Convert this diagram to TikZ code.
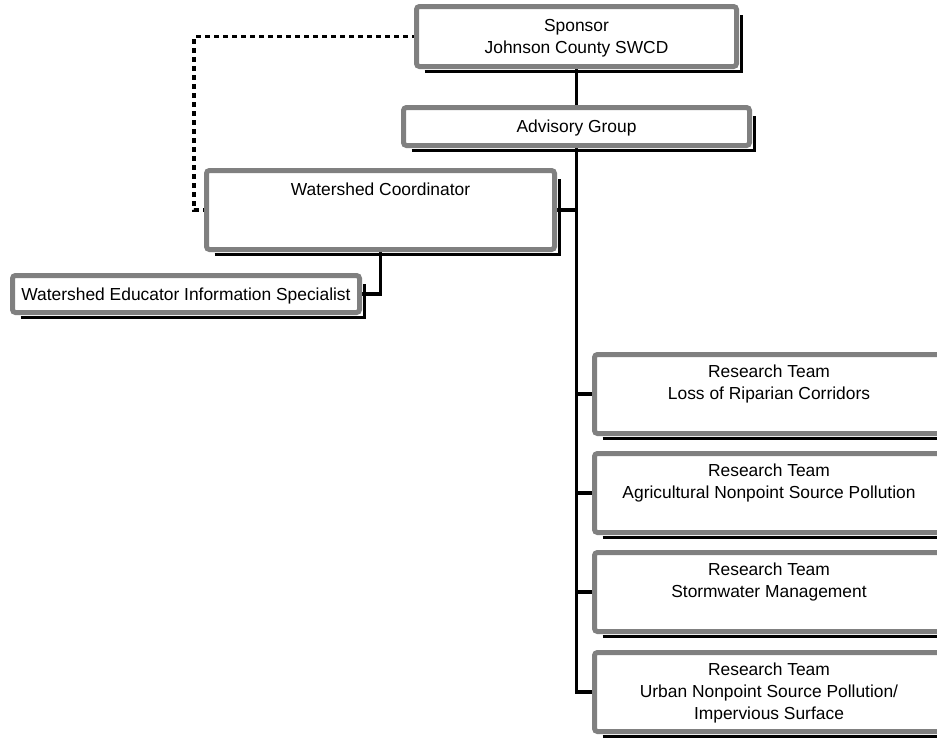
\documentclass[tikz,border=0pt]{standalone}
\usepackage{fontspec}
\setmainfont{Liberation Sans}
\usetikzlibrary{calc,backgrounds}
\definecolor{boxgray}{RGB}{128,128,128}
\begin{document}
\begin{tikzpicture}[x=1pt,y=-1pt,
  font=\fontsize{17.4}{21.7}\selectfont,
  orgbox/.style={draw=boxgray, line width=5pt, fill=white, rounded corners=3pt, inner sep=0pt, outer sep=0pt, align=center, text depth=0pt},
  lbl/.style={inner sep=0pt, outer sep=0pt, align=center},
  conn/.style={line width=3.5pt, black},
  shadowline/.style={line width=3pt, black},
  dotline/.style={line width=3.5pt, black, dash pattern=on 5pt off 4pt}]
\useasboundingbox (0,0) rectangle (937,737);
\clip (0,0) rectangle (937,737);

% boxes
\node[orgbox, minimum width=320pt, minimum height=60pt] (sp) at (576.5,36.5) {Sponsor\\Johnson County SWCD};
\node[orgbox, minimum width=346pt, minimum height=38pt] (adv) at (576.5,126.5) {Advisory Group};
\node[orgbox, minimum width=348pt, minimum height=79pt] (wc) at (380.5,210) {};
\node[lbl, anchor=north] (wct) at ($(wc.north)+(0,12)$) {Watershed Coordinator};
\node[orgbox, minimum width=347pt, minimum height=37pt] (ed) at (186,294) {Watershed Educator Information Specialist};

\node[orgbox, minimum width=349pt, minimum height=79pt] (r1) at (769,394) {};
\node[orgbox, minimum width=349pt, minimum height=79pt] (r2) at (769,493) {};
\node[orgbox, minimum width=349pt, minimum height=79pt] (r3) at (769,592) {};
\node[orgbox, minimum width=349pt, minimum height=79pt] (r4) at (769,692) {};
\node[lbl, anchor=north] (r1t) at ($(r1.north)+(0,10.5)$) {Research Team\\Loss of Riparian Corridors};
\node[lbl, anchor=north] (r2t) at ($(r2.north)+(0,10.5)$) {Research Team\\Agricultural Nonpoint Source Pollution};
\node[lbl, anchor=north] (r3t) at ($(r3.north)+(0,10.5)$) {Research Team\\Stormwater Management};
\node[lbl, anchor=north] (r4t) at ($(r4.north)+(0,10.5)$) {Research Team\\Urban Nonpoint Source Pollution/\\Impervious Surface};

\begin{pgfonlayer}{background}
  \fill[white] (0,0) rectangle (937,737);
  % shadows
  \foreach \b in {sp,adv,wc,ed,r1,r2,r3,r4}
    \draw[shadowline] ($(\b.south west)+(8,4.5)$) -- ($(\b.south east)+(4.5,4.5)$) -- ($(\b.north east)+(4.5,8)$);
  % connectors
  \draw[conn] (sp.south) -- (adv.north);
  \draw[conn] (adv.south) |- (r4.west);
  \foreach \r in {r1,r2,r3}
    \draw[conn] (\r.west) -- (\r.west -| adv.south);
  \draw[conn] (wc.east) -- (wc.east -| adv.south);
  \draw[conn] (wc.south) |- (ed.east);
  \coordinate (dc) at (194,210);
  \draw[dotline] (sp.west) -| (dc) -- (wc.west);
\end{pgfonlayer}
\end{tikzpicture}
\end{document}
